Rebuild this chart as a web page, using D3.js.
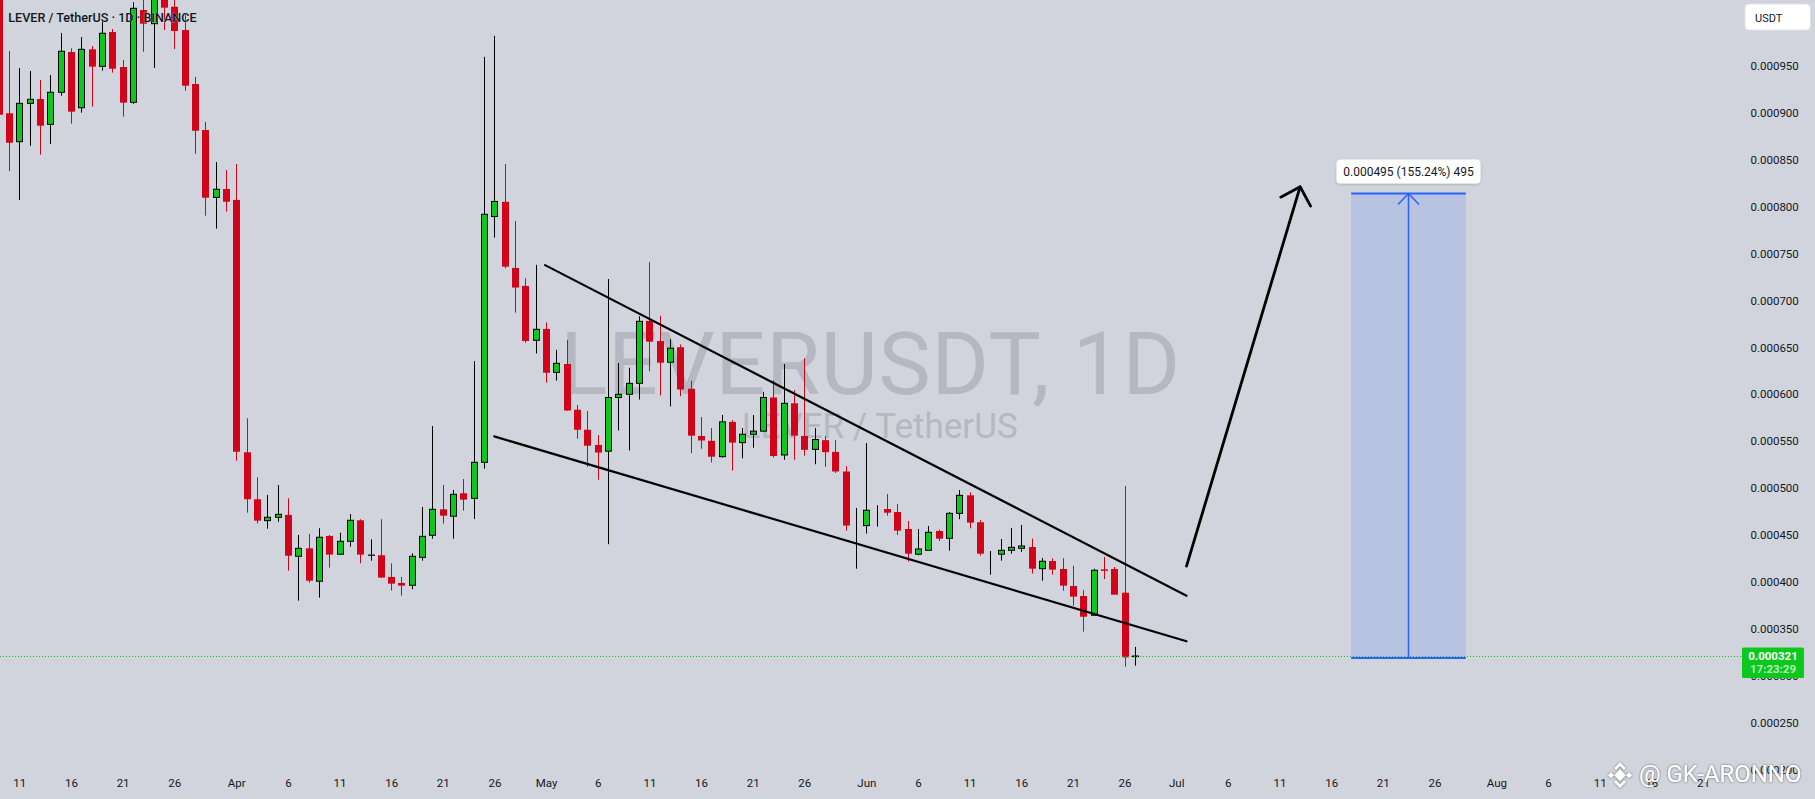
<!DOCTYPE html>
<html><head><meta charset="utf-8">
<script src="https://cdn.jsdelivr.net/npm/d3@7"></script>
<style>html,body{margin:0;padding:0;background:#d1d4dc;overflow:hidden}</style>
</head><body>
<svg id="c" width="1815" height="799"></svg>
<script>
// ---------------- DATA ----------------
const dates = [
"2024-03-09","2024-03-10","2024-03-11","2024-03-12","2024-03-13","2024-03-14","2024-03-15","2024-03-16","2024-03-17","2024-03-18","2024-03-19","2024-03-20","2024-03-21","2024-03-22","2024-03-23","2024-03-24","2024-03-25","2024-03-26","2024-03-27","2024-03-28","2024-03-29","2024-03-30","2024-03-31",
"2024-04-01","2024-04-02","2024-04-03","2024-04-04","2024-04-05","2024-04-06","2024-04-07","2024-04-08","2024-04-09","2024-04-10","2024-04-11","2024-04-12","2024-04-13","2024-04-14","2024-04-15","2024-04-16","2024-04-17","2024-04-18","2024-04-19","2024-04-20","2024-04-21","2024-04-22","2024-04-23","2024-04-24","2024-04-25","2024-04-26","2024-04-27","2024-04-28","2024-04-29","2024-04-30",
"2024-05-01","2024-05-02","2024-05-03","2024-05-04","2024-05-05","2024-05-06","2024-05-07","2024-05-08","2024-05-09","2024-05-10","2024-05-11","2024-05-12","2024-05-13","2024-05-14","2024-05-15","2024-05-16","2024-05-17","2024-05-18","2024-05-19","2024-05-20","2024-05-21","2024-05-22","2024-05-23","2024-05-24","2024-05-25","2024-05-26","2024-05-27","2024-05-28","2024-05-29","2024-05-30","2024-05-31",
"2024-06-01","2024-06-02","2024-06-03","2024-06-04","2024-06-05","2024-06-06","2024-06-07","2024-06-08","2024-06-09","2024-06-10","2024-06-11","2024-06-12","2024-06-13","2024-06-14","2024-06-15","2024-06-16","2024-06-17","2024-06-18","2024-06-19","2024-06-20","2024-06-21","2024-06-22","2024-06-23","2024-06-24","2024-06-25","2024-06-26","2024-06-27"];

const opens = [
0.00104,0.0008996,0.0008693,0.0009102,0.0009148,0.0008878,0.000922,0.0009649,0.0009055,0.0009678,0.0009497,0.0009862,0.0009489,0.0009113,0.0010097,0.0009951,0.00103,0.0010132,0.0009884,0.0009308,0.0008818,0.0008099,0.0008189,
0.0008072,0.0005382,0.0004881,0.0004653,0.0004689,0.0004714,0.0004273,0.0004358,0.0004007,0.000449,0.0004295,0.0004433,0.0004657,0.0004284,0.0004284,0.0004053,0.0003989,0.0003964,0.0004262,0.0004497,0.0004774,0.00047,0.0004945,0.0004891,0.0005275,0.0007895,0.0008052,0.0007347,0.0007156,0.0006576,
0.0006697,0.0006234,0.0006323,0.0005835,0.0005622,0.000546,0.0005394,0.0005966,0.0006,0.0006117,0.0006782,0.0006568,0.0006342,0.0006502,0.0006059,0.0005556,0.0005504,0.0005335,0.0005706,0.0005485,0.0005574,0.0005607,0.0005966,0.0005353,0.0005904,0.0005556,0.0005413,0.0005511,0.0005386,0.0005177,0.0004604,
0.00046,0.0004764,0.0004777,0.0004745,0.0004564,0.0004295,0.0004337,0.0004543,0.0004465,0.0004731,0.0004923,0.0004636,0.0004301,0.0004295,0.0004337,0.0004358,0.0004372,0.0004141,0.0004223,0.0004138,0.0003956,0.000385,0.0003644,0.0004134,0.0004138,0.0003885,0.0003203];

const highs = [
0.00106,0.000966,0.0009479,0.0009447,0.0009351,0.0009404,0.0009852,0.0009689,0.0009809,0.0009713,0.000998,0.0009894,0.0009564,0.001018,0.00103,0.001045,0.001045,0.001025,0.0010044,0.0009383,0.0008903,0.0008477,0.0008391,
0.0008455,0.0005744,0.0005115,0.0004927,0.0005033,0.0004891,0.00045,0.0004511,0.0004572,0.00045,0.0004525,0.0004724,0.0004668,0.0004454,0.0004668,0.0004198,0.0004053,0.0004305,0.0004799,0.0005662,0.0005033,0.000498,0.0005096,0.0006355,0.0009598,0.0009822,0.0008455,0.0007847,0.0007237,0.000738,
0.0006767,0.0006474,0.000658,0.0005886,0.0005823,0.0005566,0.0007229,0.0006334,0.0006283,0.0006833,0.000741,0.0006837,0.0006588,0.0006532,0.0006143,0.0005757,0.000564,0.0005779,0.0005724,0.000564,0.0005779,0.0006026,0.000615,0.0006323,0.0006044,0.0006385,0.000564,0.0005556,0.0005511,0.0005233,0.0004788,
0.0005481,0.0004817,0.0004937,0.0004831,0.000465,0.0004564,0.0004596,0.0004557,0.0004745,0.000498,0.0004955,0.000466,0.0004329,0.0004457,0.0004575,0.0004607,0.0004461,0.0004255,0.0004252,0.0004252,0.0004173,0.0003914,0.0004141,0.0004266,0.0004159,0.0005022,0.0003307];

const lows = [
0.00089,0.000838,0.0008072,0.000865,0.0008554,0.0008668,0.0009183,0.0008885,0.0009002,0.0009066,0.000945,0.0009429,0.000896,0.0009095,0.0009652,0.0009479,0.0009884,0.0009681,0.0009237,0.0008565,0.0007904,0.0007766,0.0007947,
0.0005292,0.0004738,0.0004625,0.0004567,0.0004642,0.0004119,0.00038,0.0003992,0.0003832,0.0004152,0.0004295,0.0004376,0.0004198,0.0004226,0.0004043,0.0003907,0.0003853,0.0003922,0.0004226,0.0004461,0.0004621,0.0004461,0.0004759,0.000467,0.0005207,0.000767,0.0007343,0.000687,0.000655,0.0006436,
0.0006124,0.0006146,0.0005825,0.0005526,0.0005228,0.0005089,0.0004402,0.0005614,0.0005401,0.0005944,0.0006245,0.0005988,0.0005871,0.0005979,0.0005372,0.0005419,0.0005273,0.0005327,0.0005187,0.0005317,0.000543,0.0005599,0.0005327,0.0005302,0.0005302,0.0005346,0.0005254,0.0005228,0.0005162,0.0004546,0.0004141,
0.0004515,0.0004589,0.0004706,0.00045,0.0004216,0.0004284,0.0004337,0.0004436,0.0004333,0.0004668,0.0004571,0.000428,0.0004077,0.0004226,0.0004301,0.0004319,0.0004088,0.0004013,0.0004077,0.0003907,0.0003746,0.0003469,0.0003644,0.0004031,0.0003864,0.0003096,0.0003107];

const closes = [
0.000898,0.0008682,0.0009102,0.0009145,0.0008864,0.000922,0.0009657,0.0009013,0.0009678,0.0009493,0.0009849,0.0009471,0.0009109,0.0010115,0.0009951,0.00103,0.0010122,0.0009873,0.000929,0.000881,0.0008096,0.0008186,0.0008053,
0.0005388,0.0004881,0.0004653,0.0004689,0.0004721,0.0004279,0.0004358,0.0004013,0.0004476,0.0004291,0.0004433,0.0004657,0.0004291,0.0004286,0.0004046,0.0003981,0.000396,0.0004273,0.0004486,0.0004774,0.0004706,0.0004934,0.0004877,0.0005275,0.0007919,0.0008056,0.0007361,0.0007138,0.0006568,0.0006693,
0.000623,0.000633,0.0005827,0.0005622,0.0005452,0.0005379,0.0005966,0.0006,0.0006117,0.0006778,0.0006561,0.0006337,0.0006491,0.0006051,0.0005559,0.0005508,0.0005335,0.0005706,0.0005485,0.0005574,0.0005607,0.0005966,0.0005342,0.0005904,0.0005559,0.0005408,0.0005518,0.0005383,0.0005177,0.0004601,0.0004604,
0.0004764,0.0004764,0.0004738,0.0004546,0.0004301,0.0004351,0.0004529,0.0004461,0.0004731,0.0004923,0.0004632,0.0004301,0.0004301,0.0004337,0.0004369,0.0004383,0.0004141,0.000422,0.0004131,0.000396,0.0003843,0.0003629,0.0004124,0.0004125,0.0003864,0.0003196,0.000321];

const priceTicks = [0.0002,0.00025,0.0003,0.00035,0.0004,0.00045,0.0005,0.00055,0.0006,0.00065,0.0007,0.00075,0.0008,0.00085,0.0009,0.00095];
const dateTicks = ["2024-03-11","2024-03-16","2024-03-21","2024-03-26","2024-04-01","2024-04-06","2024-04-11","2024-04-16","2024-04-21","2024-04-26","2024-05-01","2024-05-06","2024-05-11","2024-05-16","2024-05-21","2024-05-26","2024-06-01","2024-06-06","2024-06-11","2024-06-16","2024-06-21","2024-06-26","2024-07-01","2024-07-06","2024-07-11","2024-07-16","2024-07-21","2024-07-26","2024-08-01","2024-08-06","2024-08-11","2024-08-16","2024-08-21"];
const dateTickLabels = ["11","16","21","26","Apr","6","11","16","21","26","May","6","11","16","21","26","Jun","6","11","16","21","26","Jul","6","11","16","21","26","Aug","6","11","16","21"];

const lastPrice = 0.000321;
const countdown = "17:23:29";
const upperTrendDates = ["2024-04-30T21:36:00Z","2024-07-02T00:00:00Z"];
const upperTrendPrices = [0.0007377, 0.0003853];
const lowerTrendDates = ["2024-04-25T23:30:00Z","2024-07-02T00:00:00Z"];
const lowerTrendPrices = [0.0005551, 0.0003367];
const arrowDates = ["2024-07-02T00:00:00Z","2024-07-13T00:00:00Z"];
const arrowPrices = [0.0004169, 0.0008213];
const rangeDates = ["2024-07-17T22:30:00Z","2024-07-29T01:00:00Z"];
const rangePrices = [0.000319, 0.000814];
const rangeLabel = "0.000495 (155.24%) 495";
const titleText = "LEVER / TetherUS · 1D · BINANCE";
const bigWatermark = "LEVERUSDT, 1D";
const subWatermark = "LEVER / TetherUS";
const authorMark = "@ GK-ARONNO";

// ---------------- SETUP ----------------
const W = 1815, H = 799;
const GREEN = "#0cc81d", RED = "#d1041a", INK = "#131722", BLUE = "#2962ff";
const parse = d3.utcParse("%Y-%m-%d");
const iso = d3.isoParse;
const svg = d3.select("#c");

const x = d3.scaleUtc().domain([parse("2024-03-11"), parse("2024-08-21")]).range([19.3, 1703]);
const y = d3.scaleLinear().domain([0.00095, 0.00025]).range([66, 722.6]);

const defs = svg.append("defs");
const f1 = defs.append("filter").attr("id","lblShadow").attr("x","-20%").attr("y","-40%").attr("width","140%").attr("height","180%");
f1.append("feDropShadow").attr("dx",0).attr("dy",1).attr("stdDeviation",1.5).attr("flood-color","#000").attr("flood-opacity",0.18);
const f2 = defs.append("filter").attr("id","wmShadow").attr("x","-10%").attr("y","-30%").attr("width","120%").attr("height","160%");
f2.append("feDropShadow").attr("dx",0).attr("dy",0).attr("stdDeviation",1).attr("flood-color","#444").attr("flood-opacity",0.9);

svg.append("rect").attr("width",W).attr("height",H).attr("fill","#d1d4dc");

// watermark
svg.append("text").attr("x",870.5).attr("y",393.6).attr("text-anchor","middle")
  .attr("font-family","Roboto, sans-serif").attr("font-size",88).attr("letter-spacing",0.6).attr("fill","#b5b8c0").text(bigWatermark);
svg.append("text").attr("x",879.7).attr("y",438).attr("text-anchor","middle")
  .attr("font-family","Roboto, sans-serif").attr("font-size",35).attr("fill","#b5b8c0").text(subWatermark);

// ---------------- CANDLES ----------------
const data = dates.map((d,i)=>({date:parse(d), o:opens[i], h:highs[i], l:lows[i], c:closes[i]}));
const day = x(parse("2024-03-12")) - x(parse("2024-03-11"));
const bw = Math.round(day*0.66);
const gC = svg.append("g");
data.forEach(d=>{
  const up = d.c >= d.o;
  const cx = Math.round(x(d.date)) + 0.5;
  gC.append("line").attr("x1",cx).attr("x2",cx).attr("y1",y(d.h)).attr("y2",y(d.l))
    .attr("stroke", up ? "#000" : RED).attr("stroke-width",1);
  const top = y(Math.max(d.o,d.c)), bot = y(Math.min(d.o,d.c));
  if (up) {
    gC.append("rect").attr("x",cx - bw/2 + 0.5).attr("y",top).attr("width",bw-1).attr("height",Math.max(bot-top,0))
      .attr("fill",GREEN).attr("stroke","#000").attr("stroke-width",1);
  } else {
    gC.append("rect").attr("x",cx - bw/2).attr("y",top).attr("width",bw).attr("height",Math.max(bot-top,1.5))
      .attr("fill",RED);
  }
});

// ---------------- DRAWINGS ----------------
const gD = svg.append("g");
function seg(ds, ps, w){
  gD.append("line").attr("x1",x(iso(ds[0]))).attr("y1",y(ps[0])).attr("x2",x(iso(ds[1]))).attr("y2",y(ps[1]))
    .attr("stroke","#000").attr("stroke-width",w).attr("stroke-linecap","round");
}
seg(upperTrendDates, upperTrendPrices, 2.2);
seg(lowerTrendDates, lowerTrendPrices, 2.2);

// big arrow
(function(){
  const x0 = x(iso(arrowDates[0])), y0 = y(arrowPrices[0]);
  const x1 = x(iso(arrowDates[1])), y1 = y(arrowPrices[1]);
  const ang = Math.atan2(y0-y1, x0-x1), L = 22, a = Math.PI/4;
  const p = d3.path();
  p.moveTo(x0,y0); p.lineTo(x1,y1);
  p.moveTo(x1 + L*Math.cos(ang+a), y1 + L*Math.sin(ang+a)); p.lineTo(x1,y1);
  p.lineTo(x1 + L*Math.cos(ang-a), y1 + L*Math.sin(ang-a));
  gD.append("path").attr("d",p.toString()).attr("fill","none").attr("stroke","#000")
    .attr("stroke-width",2.8).attr("stroke-linecap","round").attr("stroke-linejoin","round");
})();

// range measure box
(function(){
  const xl = x(iso(rangeDates[0])), xr = x(iso(rangeDates[1]));
  const yt = y(rangePrices[1]), yb = y(rangePrices[0]);
  const xc = (xl+xr)/2;
  gD.append("rect").attr("x",xl).attr("y",yt).attr("width",xr-xl).attr("height",yb-yt).attr("fill","rgba(41,98,255,0.15)");
  gD.append("line").attr("x1",xl).attr("x2",xr).attr("y1",yt).attr("y2",yt).attr("stroke",BLUE).attr("stroke-width",2);
  gD.append("line").attr("x1",xl).attr("x2",xr).attr("y1",yb).attr("y2",yb).attr("stroke",BLUE).attr("stroke-width",2);
  gD.append("line").attr("x1",xc).attr("x2",xc).attr("y1",yb).attr("y2",yt).attr("stroke",BLUE).attr("stroke-width",1.5);
  gD.append("path").attr("d",`M${xc-10.5},${yt+11}L${xc},${yt}L${xc+10.5},${yt+11}`).attr("fill","none")
    .attr("stroke",BLUE).attr("stroke-width",1.5);
  const lw = 144, lh = 24;
  gD.append("rect").attr("x",xc-lw/2).attr("y",yt-10-lh).attr("width",lw).attr("height",lh).attr("rx",4)
    .attr("fill","#fff").attr("filter","url(#lblShadow)");
  gD.append("text").attr("x",xc).attr("y",yt-10-lh/2).attr("dy","0.36em").attr("text-anchor","middle")
    .attr("font-family","Roboto, sans-serif").attr("font-size",12).attr("fill",INK).text(rangeLabel);
})();

// last price dotted line
svg.append("line").attr("x1",0).attr("x2",1742).attr("y1",Math.round(y(lastPrice))+0.5).attr("y2",Math.round(y(lastPrice))+0.5)
  .attr("stroke",GREEN).attr("stroke-width",1).attr("stroke-dasharray","1 2");

// ---------------- AXES ----------------
const yAxis = d3.axisRight(y).tickValues(priceTicks).tickFormat(d3.format(".6f")).tickSize(0).tickPadding(0);
const gy = svg.append("g").attr("transform","translate(1750.5,0)").call(yAxis);
gy.select(".domain").remove();
gy.attr("font-family","Roboto, sans-serif").attr("font-size",11.5);
gy.selectAll("text").attr("fill",INK);

const xAxis = d3.axisBottom(x).tickValues(dateTicks.map(parse)).tickFormat((d,i)=>dateTickLabels[i]).tickSize(0).tickPadding(0);
const gx = svg.append("g").attr("transform","translate(0,779)").call(xAxis);
gx.select(".domain").remove();
gx.attr("font-family","Roboto, sans-serif").attr("font-size",11.5);
gx.selectAll("text").attr("fill",INK);

// price tag
(function(){
  const yc = y(lastPrice);
  svg.append("rect").attr("x",1742).attr("y",yc-8.5).attr("width",62).attr("height",30.5).attr("rx",1.5).attr("fill",GREEN);
  svg.append("text").attr("x",1773).attr("y",yc).attr("dy","0.35em").attr("text-anchor","middle")
    .attr("font-family","Roboto, sans-serif").attr("font-size",11.5).attr("font-weight",700).attr("fill","#fff").text(d3.format(".6f")(lastPrice));
  svg.append("text").attr("x",1773).attr("y",yc+13.3).attr("dy","0.35em").attr("text-anchor","middle")
    .attr("font-family","Roboto, sans-serif").attr("font-size",11.5).attr("font-weight",700).attr("fill","rgba(255,255,255,0.7)").text(countdown);
})();

// USDT button
svg.append("rect").attr("x",1745).attr("y",4).attr("width",65.5).attr("height",26).attr("rx",4)
  .attr("fill","#fff").attr("stroke","#e0e3eb").attr("stroke-width",1);
svg.append("text").attr("x",1755).attr("y",18).attr("dy","0.35em")
  .attr("font-family","Roboto, sans-serif").attr("font-size",11).attr("fill",INK).text("USDT");

// title
svg.append("text").attr("x",8.3).attr("y",21.6).attr("font-family","Roboto, sans-serif").attr("font-size",12.6)
  .attr("font-weight",500).attr("fill",INK).attr("stroke","#d1d4dc").attr("stroke-width",0.6).attr("paint-order","stroke")
  .text(titleText);

// author watermark
(function(){
  const g = svg.append("g").attr("filter","url(#wmShadow)");
  const cx = 1620, cy = 775.2;
  const lg = g.append("g").attr("transform",`translate(${cx},${cy})`).attr("fill","none").attr("stroke","#fff").attr("stroke-width",2.6);
  lg.append("path").attr("d","M-5,-6L0,-11L5,-6");
  lg.append("path").attr("d","M-5,6L0,11L5,6");
  lg.append("path").attr("d","M0,-4L4,0L0,4L-4,0Z").attr("fill","#fff");
  lg.append("path").attr("d","M-9,-2.5L-6.5,0L-9,2.5L-11.5,0Z").attr("fill","#fff").attr("stroke-width",1);
  lg.append("path").attr("d","M9,-2.5L11.5,0L9,2.5L6.5,0Z").attr("fill","#fff").attr("stroke-width",1);
  g.append("text").attr("x",1639).attr("y",781.6).attr("font-family","Roboto, sans-serif").attr("font-size",24)
    .attr("fill","#fff").text(authorMark);
})();
</script>
</body></html>
